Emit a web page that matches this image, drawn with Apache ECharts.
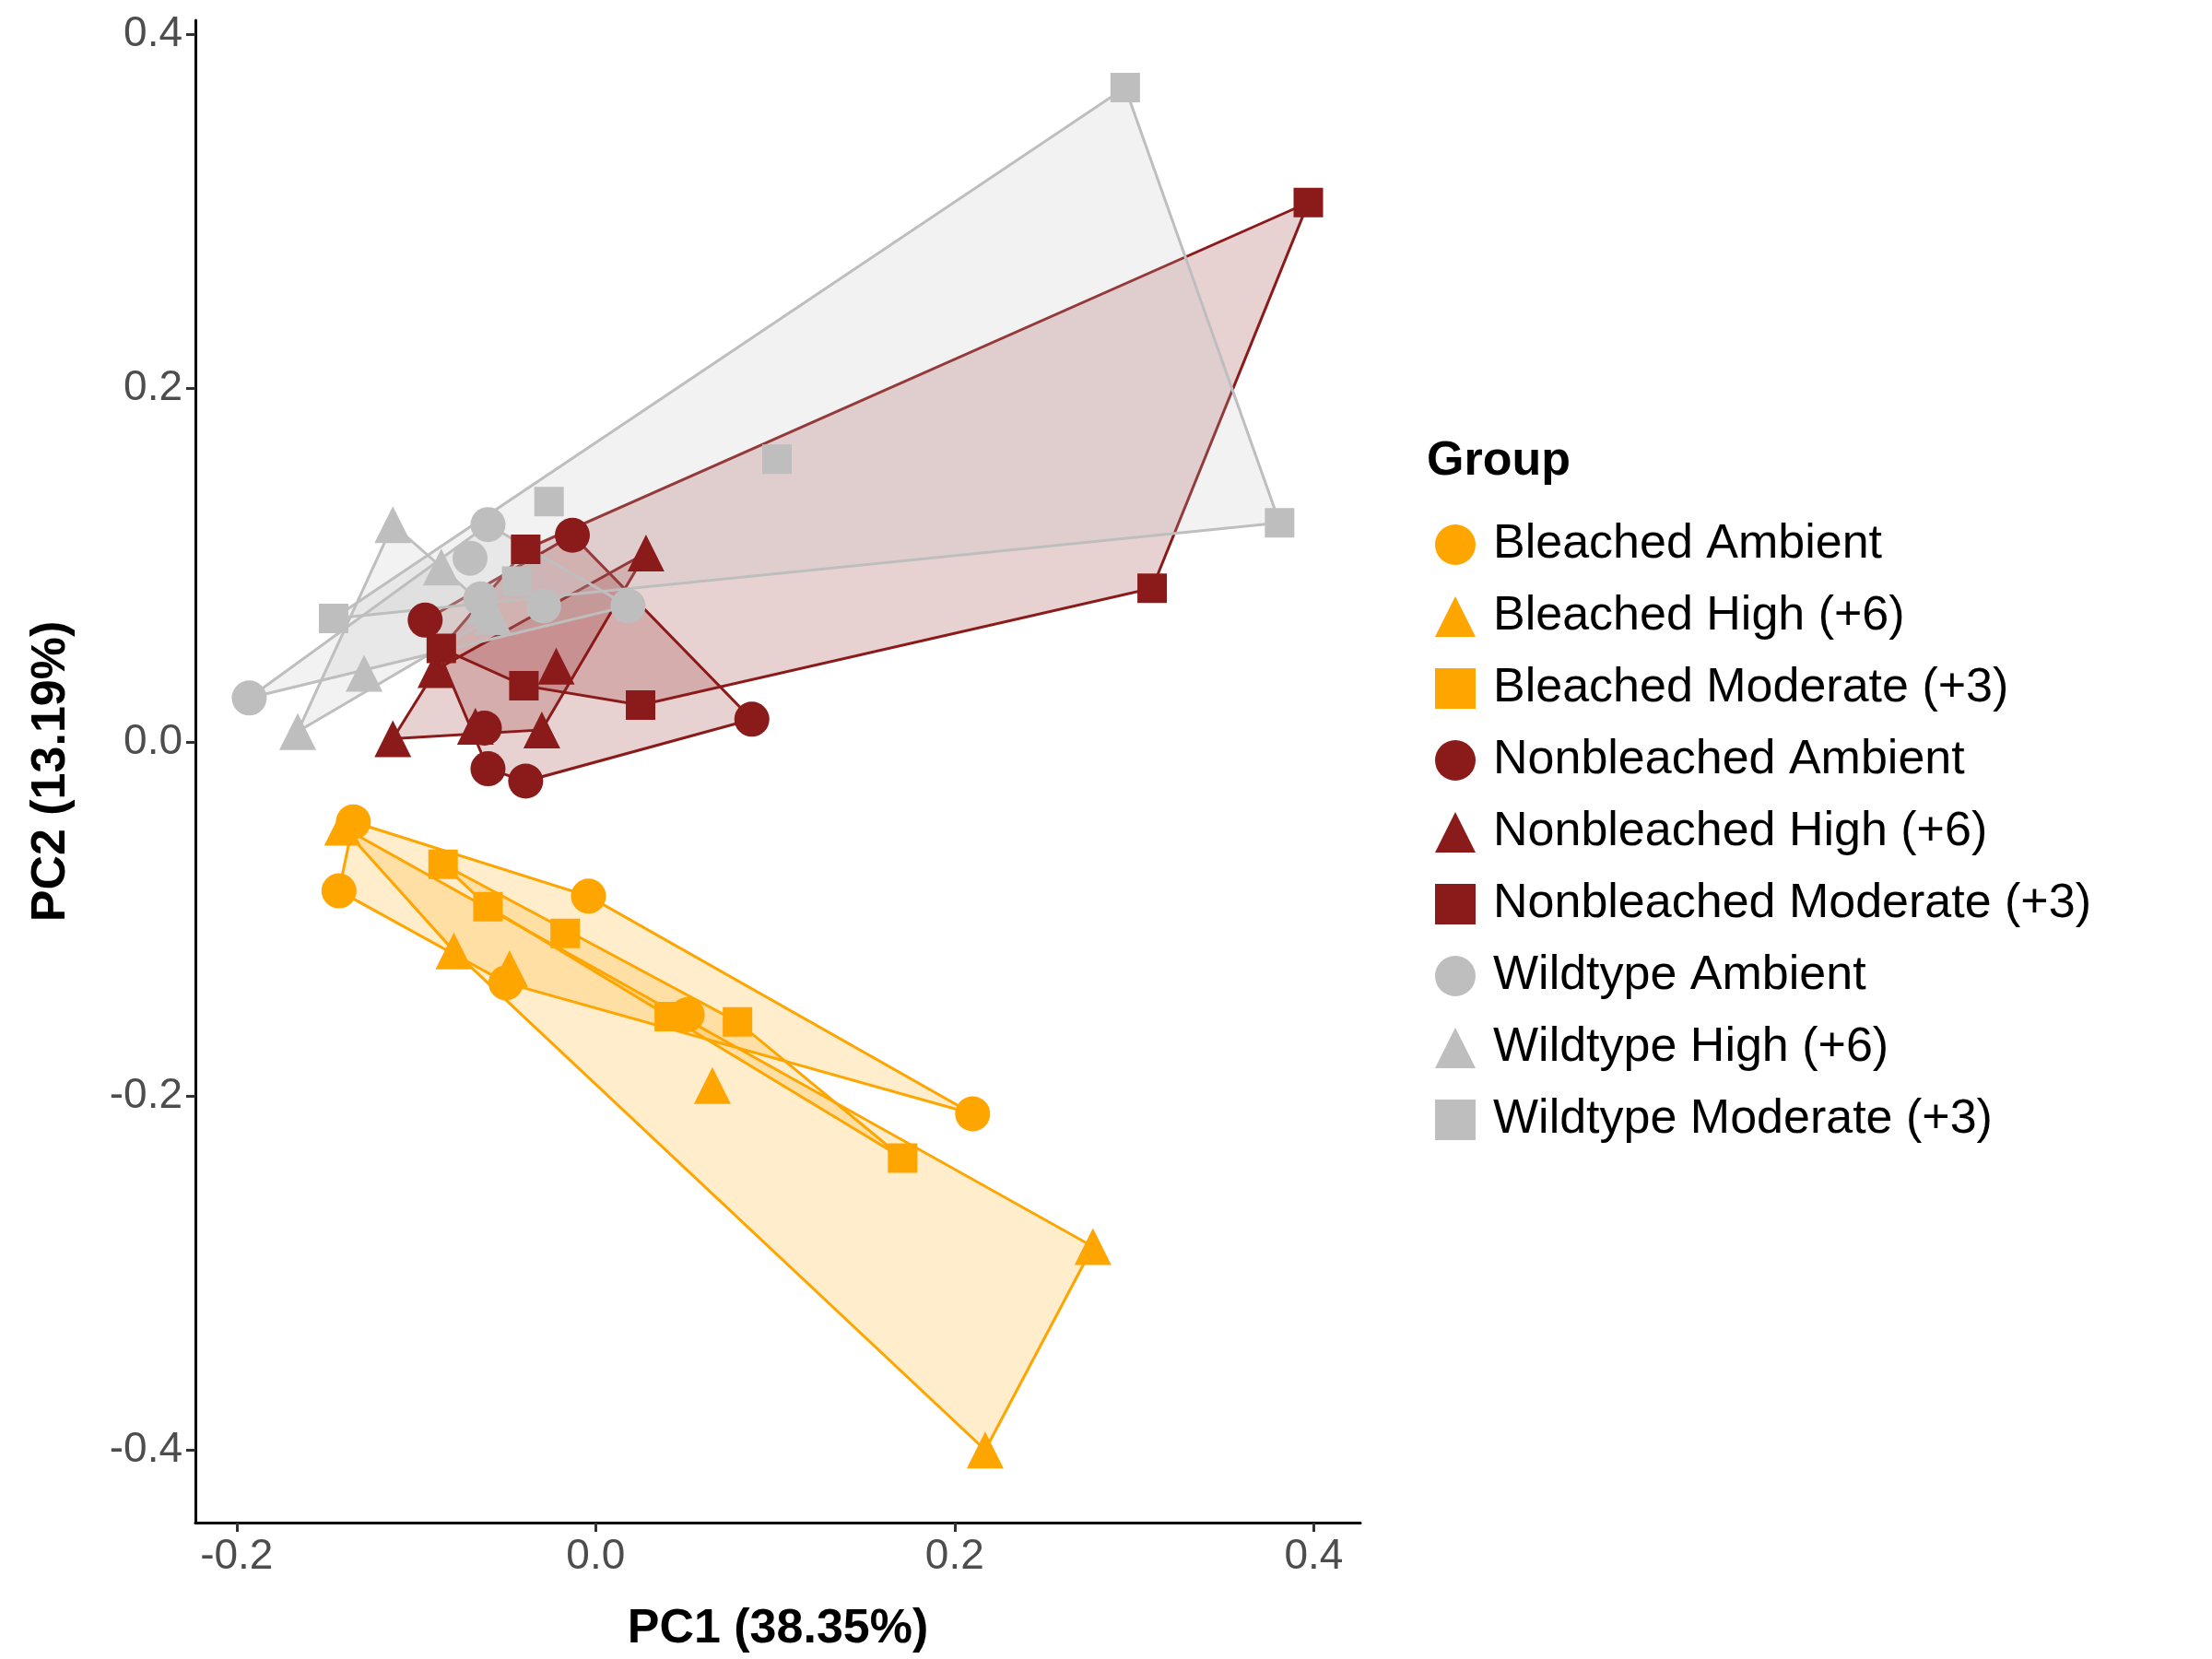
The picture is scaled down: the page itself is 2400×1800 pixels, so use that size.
<!DOCTYPE html>
<html><head><meta charset="utf-8">
<script src="https://cdn.jsdelivr.net/npm/echarts@6/dist/echarts.min.js"></script>
<style>html,body{margin:0;background:#fff}#c{width:2400px;height:1800px}</style>
</head><body><div id="c"></div>
<script>
// PCA scores, one small array per group: [PC1, PC2]
var bleachedAmbient = [[-0.135,-0.045],[-0.143,-0.084],[-0.004,-0.087],[-0.050,-0.136],[0.051,-0.154],[0.210,-0.210]];
var bleachedHigh = [[-0.141,-0.048],[-0.079,-0.118],[-0.048,-0.128],[0.065,-0.194],[0.277,-0.285],[0.217,-0.400]];
var bleachedModerate = [[-0.085,-0.069],[-0.060,-0.093],[-0.017,-0.108],[0.041,-0.155],[0.079,-0.158],[0.171,-0.235]];
var nonbleachedAmbient = [[-0.013,0.117],[-0.095,0.069],[-0.062,0.008],[-0.060,-0.015],[-0.039,-0.022],[0.087,0.013]];
var nonbleachedHigh = [[0.028,0.107],[-0.089,0.041],[-0.022,0.043],[-0.067,0.009],[-0.030,0.007],[-0.113,0.002]];
var nonbleachedModerate = [[-0.039,0.109],[-0.086,0.053],[-0.040,0.032],[0.025,0.021],[0.310,0.087],[0.397,0.305]];
var wildtypeAmbient = [[-0.193,0.025],[-0.060,0.123],[-0.070,0.104],[-0.064,0.081],[-0.029,0.077],[0.018,0.077]];
var wildtypeHigh = [[-0.113,0.123],[-0.086,0.099],[-0.062,0.077],[-0.057,0.071],[-0.129,0.039],[-0.166,0.006]];
var wildtypeModerate = [[-0.146,0.070],[-0.044,0.091],[-0.026,0.136],[0.101,0.160],[0.295,0.370],[0.381,0.124]];
var xTicks = [-0.2, 0, 0.2, 0.4];
var yTicks = [-0.4, -0.2, 0, 0.2, 0.4];

var groups = [
  {name:'Bleached Ambient', data:bleachedAmbient, color:'#FFA500', shape:'circle'},
  {name:'Bleached High (+6)', data:bleachedHigh, color:'#FFA500', shape:'triangle'},
  {name:'Bleached Moderate (+3)', data:bleachedModerate, color:'#FFA500', shape:'rect'},
  {name:'Nonbleached Ambient', data:nonbleachedAmbient, color:'#8B1A1A', shape:'circle'},
  {name:'Nonbleached High (+6)', data:nonbleachedHigh, color:'#8B1A1A', shape:'triangle'},
  {name:'Nonbleached Moderate (+3)', data:nonbleachedModerate, color:'#8B1A1A', shape:'rect'},
  {name:'Wildtype Ambient', data:wildtypeAmbient, color:'#BEBEBE', shape:'circle'},
  {name:'Wildtype High (+6)', data:wildtypeHigh, color:'#BEBEBE', shape:'triangle'},
  {name:'Wildtype Moderate (+3)', data:wildtypeModerate, color:'#BEBEBE', shape:'rect'}
];

// convex hull (monotone chain)
function hull(pts){
  var p = pts.slice().sort(function(a,b){return a[0]-b[0]||a[1]-b[1];});
  function cross(o,a,b){return (a[0]-o[0])*(b[1]-o[1])-(a[1]-o[1])*(b[0]-o[0]);}
  var lo=[],up=[];
  p.forEach(function(q){while(lo.length>=2&&cross(lo[lo.length-2],lo[lo.length-1],q)<=0)lo.pop();lo.push(q);});
  p.slice().reverse().forEach(function(q){while(up.length>=2&&cross(up[up.length-2],up[up.length-1],q)<=0)up.pop();up.push(q);});
  lo.pop();up.pop();return lo.concat(up);
}
function fmt(v){ return Math.abs(v) < 1e-9 ? '0.0' : v.toFixed(1); }

var series = [];
groups.forEach(function(g){
  var h = hull(g.data);
  series.push({
    type:'custom', name:g.name+' hull', silent:true, z:1,
    data:[0],
    renderItem:function(params, api){
      var pts = h.map(function(d){return api.coord(d);});
      return {type:'polygon', shape:{points:pts},
        style:{fill:echarts.color.modifyAlpha(g.color,0.2), stroke:g.color, lineWidth:3}};
    }
  });
});
groups.forEach(function(g){
  series.push({
    type:'scatter', name:g.name, data:g.data, symbol:g.shape, z:3,
    symbolSize: g.shape==='rect'?32:(g.shape==='triangle'?40:38),
    itemStyle:{color:g.color, opacity:1}
  });
});

function axisCommon(ticks){
  return {
    axisLine:{onZero:false, lineStyle:{color:'#000', width:3}},
    axisTick:{show:true, length:10, customValues:ticks, lineStyle:{color:'#333', width:3}},
    axisLabel:{fontFamily:'Liberation Sans', fontSize:46, color:'#4d4d4d', margin:14,
      customValues:ticks, formatter:fmt},
    splitLine:{show:false}
  };
}

var chart = echarts.init(document.getElementById('c'));
chart.setOption({
  animation:false,
  grid:{left:212, top:22, width:1264, height:1630},
  xAxis:Object.assign({type:'value', min:-0.223, max:0.426,
    name:'PC1 (38.35%)', nameLocation:'middle', nameGap:90,
    nameTextStyle:{fontFamily:'Liberation Sans', fontWeight:'bold', fontSize:52, color:'#000'}}, axisCommon(xTicks)),
  yAxis:Object.assign({type:'value', min:-0.441, max:0.408,
    name:'PC2 (13.19%)', nameLocation:'middle', nameGap:130, nameRotate:90,
    nameTextStyle:{fontFamily:'Liberation Sans', fontWeight:'bold', fontSize:52, color:'#000'}}, axisCommon(yTicks)),
  legend:{orient:'vertical', left:1552, top:560, itemGap:26, itemWidth:44, itemHeight:44,
    data:groups.map(function(g){return {name:g.name, icon:g.shape};}),
    textStyle:{fontFamily:'Liberation Sans', fontSize:52, color:'#000', padding:[0,0,0,14]}},
  graphic:[{type:'text', left:1548, top:475,
    style:{text:'Group', font:'bold 52px "Liberation Sans"', fill:'#000'}}],
  series:series
});
</script></body></html>
